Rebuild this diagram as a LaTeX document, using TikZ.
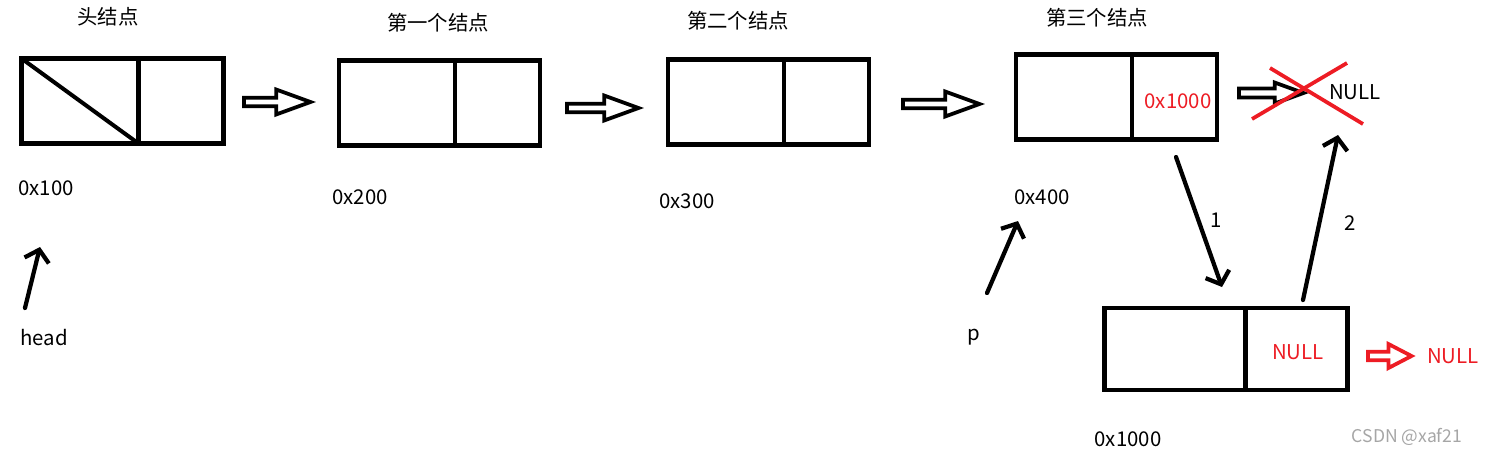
\documentclass[tikz,border=0pt]{standalone}
\usepackage{fontspec}
\setmainfont{Noto Sans CJK SC}
\usetikzlibrary{arrows.meta,positioning,shapes.arrows}
\definecolor{paintred}{RGB}{237,28,36}

\begin{document}
\begin{tikzpicture}[x = 0.02cm, y = -0.02cm,
        cell/.style = {draw, line width = 0.09cm, inner sep = 0, outer sep = 0, minimum height = 1.70cm},
        blockarrow/.style = {single arrow, draw, line width = 0.075cm, inner sep = 0, outer sep = 0, anchor = west,
            minimum width = 0.50cm, single arrow head extend = 0.07cm, single arrow tip angle = 40},
        ptr/.style = {line width = 0.085cm, line cap = round, -{Straight Barb[length = 0.22cm, width = 0.5cm]}},
        txt/.style = {inner sep = 0, font = \fontsize{11.6}{13}\selectfont},
        cross/.style = {paintred, line width = 0.075cm}]
        \useasboundingbox (0,0) rectangle (1487,454);
        % 结点
        \node[cell, minimum width = 2.34cm] (n0l) at (80,101) {};
        \node[cell, minimum width = 1.70cm, right = 0pt of n0l] (n0r) {};
        \draw[line width = 0.08cm] (n0l.north west) to (n0l.south east);
        \node[cell, minimum width = 2.32cm] (n1l) at (397,103) {};
        \node[cell, minimum width = 1.70cm, right = 0pt of n1l] (n1r) {};
        \node[cell, minimum width = 2.32cm] (n2l) at (726,102) {};
        \node[cell, minimum width = 1.70cm, right = 0pt of n2l] (n2r) {};
        \node[cell, minimum width = 2.32cm] (n3l) at (1074,97) {};
        \node[cell, minimum width = 1.70cm, right = 0pt of n3l] (n3r) {};
        \node[cell, minimum width = 2.82cm, minimum height = 1.64cm] (n4l) at (1175,349) {};
        \node[cell, minimum width = 2.04cm, minimum height = 1.64cm, right = 0pt of n4l] (n4r) {};
        % 标题
        \node[txt] (t0) at (108,17) {头结点};
        \node[txt] (t1) at (438,23) {第一个结点};
        \node[txt] (t2) at (738,21) {第二个结点};
        \node[txt] (t3) at (1097,18) {第三个结点};
        % 地址
        \node[txt] (d0) at (46,188) {0x100};
        \node[txt] (d1) at (360,197) {0x200};
        \node[txt] (d2) at (687,201) {0x300};
        \node[txt] (d3) at (1042,197) {0x400};
        \node[txt] (d4) at (1128,439) {0x1000};
        \node[txt, text = paintred] (v3) at (1178,101) {0x1000};
        \node[txt, text = paintred] (v4) at (1298,352) {NULL};
        % 箭头
        \node[blockarrow, minimum height = 1.33cm] (a0) at (244,102) {};
        \node[blockarrow, minimum height = 1.43cm] (a1) at (567,108) {};
        \node[blockarrow, minimum height = 1.53cm] (a2) at (903,104) {};
        \node[blockarrow, minimum height = 1.29cm, minimum width = 0.42cm, single arrow head extend = 0.05cm] (a3) at (1239,93) {};
        \node[blockarrow, paintred, minimum height = 0.87cm, minimum width = 0.48cm, single arrow tip angle = 55] (a4) at (1368,356) {};
        \node[txt] (null) at (1355,92) {NULL};
        \node[txt, text = paintred] (null2) at (1453,356) {NULL};
        \draw[cross] (1252,119) to (1347,63);
        \draw[cross] (1270,68) to (1363,124);
        % 指针
        \node[txt] (head) at (44,338) {head};
        \node[txt] (p) at (974,337) {p};
        \coordinate (hs) at (25,308);
        \coordinate (he) at (40,247);
        \coordinate (ps) at (987,293);
        \coordinate (pe) at (1018,221);
        \coordinate (s1) at (1176,157);
        \coordinate (e1) at (1222,287);
        \coordinate (s2) at (1303,300);
        \coordinate (e2) at (1338,135);
        \draw[ptr] (hs) to (he);
        \draw[ptr] (ps) to (pe);
        \draw[ptr] (s1) to (e1);
        \draw[ptr] (s2) to (e2);
        \node[txt] (k1) at (1216,220) {1};
        \node[txt] (k2) at (1350,223) {2};
        % 水印
        \node[txt, text = gray!70, font = \fontsize{10}{12}\selectfont] (mark) at (1407,437) {CSDN @xaf21};
    \end{tikzpicture}
\end{document}
